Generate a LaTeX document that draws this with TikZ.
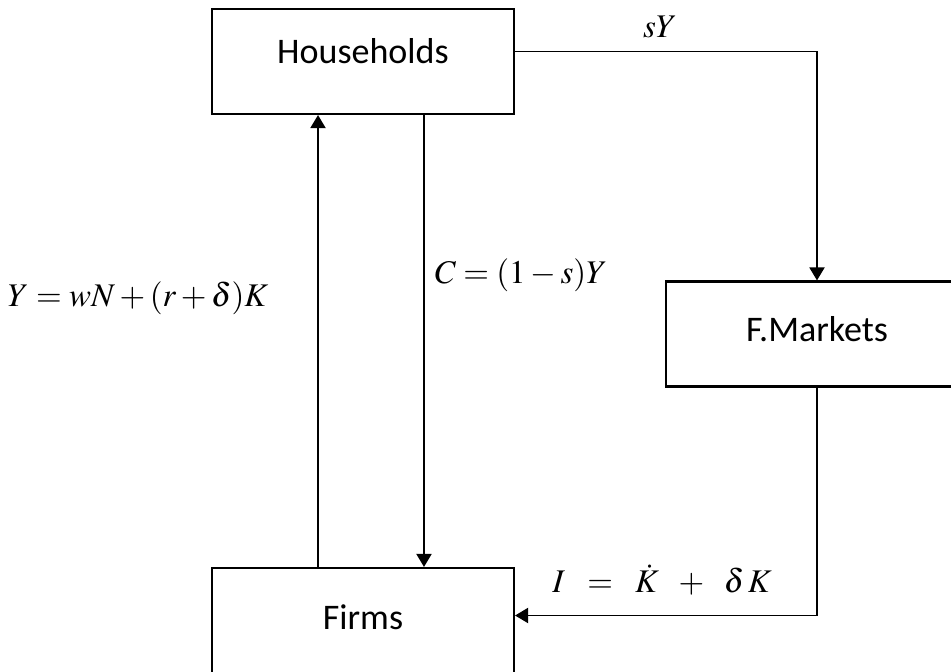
\documentclass[tikz,border=0pt]{standalone}
\usepackage{mathptmx}
\usepackage[no-math]{fontspec}
\setmainfont{Carlito}
\usetikzlibrary{arrows.meta}

\begin{document}
\begin{tikzpicture}[
  x=0.02cm, y=-0.02cm,
  arr/.style={-{Triangle[length=2.6mm,width=3mm]}, line width=1.1pt},
  box/.style={draw, line width=1.2pt, minimum width=6.04cm, minimum height=2.1cm,
    inner sep=0pt, font=\fontsize{20.5}{24}\selectfont},
  lbl/.style={inner sep=0pt, font=\fontsize{18.8}{22}\selectfont}
]
  \useasboundingbox (0,0) rectangle (951,672);
  % sectors
  \node[box, text depth=0.44cm] (hh) at (363,61.5) {Households};
  \node[box, text depth=0.22cm] (fm) at (817,334) {F.Markets};
  \node[box, text depth=0.14cm] (fi) at (363,620.5) {Firms};
  % flows
  \draw[arr] ([yshift=0.2cm]hh.east) -| (fm.north);
  \draw[arr] (fm.south) |- ([yshift=0.1cm]fi.east);
  \draw[arr] ([xshift=-0.9cm]fi.north) -- ([xshift=-0.9cm]hh.south);
  \draw[arr] ([xshift=1.22cm]hh.south) -- ([xshift=1.22cm]fi.north);
  % labels
  \node[lbl] (lsy) at (660,27) {$sY$};
  \node[lbl] (lc) at (521,275) {$C=(1-s)Y$};
  \node[lbl] (ly) at (138,298) {$Y=wN+(r+\delta)K$};
  \node[lbl] (li) at (662,580) {$I\ \ =\ \ \dot{K}\ \ +\ \ \delta\,K$};
\end{tikzpicture}
\end{document}
